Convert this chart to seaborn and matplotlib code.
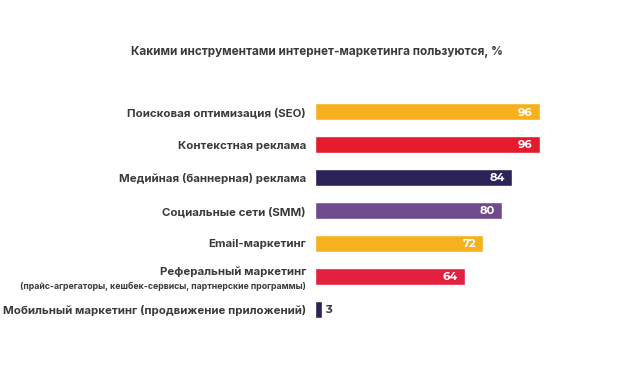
import matplotlib
matplotlib.use("Agg")
import matplotlib.pyplot as plt
import matplotlib.transforms as mtransforms
import seaborn as sns
import pandas as pd

categories = [
    "Поисковая оптимизация (SEO)",
    "Контекстная реклама",
    "Медийная (баннерная) реклама",
    "Социальные сети (SMM)",
    "Email-маркетинг",
    "Реферальный маркетинг",
    "Мобильный маркетинг (продвижение приложений)",
]
sublabels = ["", "", "", "", "", "(прайс-агрегаторы, кешбек-сервисы, партнерские программы)", ""]
values = [96, 96, 84, 80, 72, 64, 3]
colors = ["#F8B11E", "#E31B2C", "#2A2458", "#6F4A8D", "#F8B11E", "#E4203F", "#2A2458"]
title = "Какими инструментами интернет-маркетинга пользуются, %"

sns.set_theme(style="white")
plt.rcParams["font.family"] = ["Inter", "DejaVu Sans"]
LBL = dict(fontweight="bold", color="#3a3a3a")

df = pd.DataFrame({"cat": categories, "val": values})

fig = plt.figure(figsize=(6.22, 3.75), dpi=100)
ax = fig.add_axes([0.5064, 0.132, 0.3762, 0.6133])

sns.barplot(data=df, x="val", y="cat", hue="cat", palette=colors, legend=False,
            width=0.52, ax=ax, saturation=1)
ax.set_xlim(0, 100)
ax.set_ylim(6.5, -0.5)
ax.set_xlabel("")
ax.set_ylabel("")
ax.set_xticks([])
for s in ax.spines.values():
    s.set_visible(False)

ax.set_yticks(range(len(categories)))
labels = ["" if sub else c for c, sub in zip(categories, sublabels)]
ax.set_yticklabels(labels, fontsize=8.25, **LBL)
ax.tick_params(axis="y", length=0, pad=6.5)

trans = mtransforms.blended_transform_factory(ax.transAxes, ax.transData)
for i, (c, sub) in enumerate(zip(categories, sublabels)):
    if sub:
        ax.text(-0.0385, i - 0.13, c, transform=trans, ha="right", va="center",
                fontsize=8.25, **LBL)
        ax.text(-0.0385, i + 0.30, sub, transform=trans, ha="right", va="center",
                fontsize=6.3, **LBL)

NUM = ["Montserrat Alternates", "Inter", "DejaVu Sans"]
for i, v in enumerate(values):
    if v > 10:
        ax.text(v - 3, i + 0.02, str(v), ha="right", va="center", fontsize=8.2,
                fontweight="bold", color="white", family=NUM)
    else:
        ax.text(v + 1.5, i + 0.02, str(v), ha="left", va="center", fontsize=8.2,
                fontweight="bold", color="#3a3a3a", family=NUM)

fig.text(0.509, 0.861, title, ha="center", va="center", fontsize=8.45,
         **LBL)

fig.savefig("out.png", dpi=100)
